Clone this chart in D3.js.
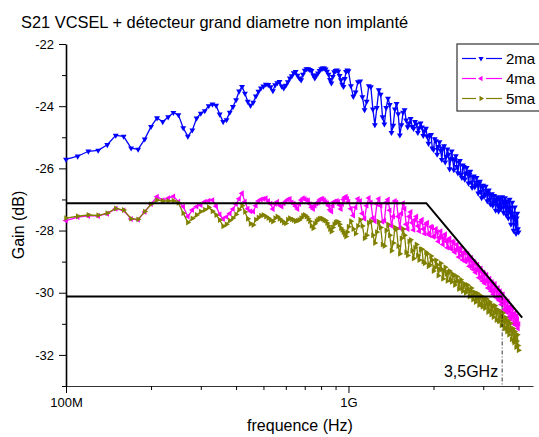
<!DOCTYPE html>
<html>
<head>
<meta charset="utf-8">
<script src="https://cdn.jsdelivr.net/npm/d3@7"></script>
<style>
	body { margin: 0; background: #fff; }
	svg { font-family: Arial, 'Liberation Sans', sans-serif; }
</style>
</head>
<body>
<div id="draw"></div>
<script>
// frequency sweep in MHz (10 MHz steps up to 1G, 20 MHz above)
const freqMHz = d3.range(100, 1001, 10).concat(d3.range(1020, 4001, 20));

// S21 gain (dB)
const gain2ma = [
	-25.71, -25.61, -25.45, -25.42, -25.24, -24.94, -24.97, -25.35, -25.39, -25.06,
	-24.66, -24.38, -24.50, -24.35, -24.21, -24.28, -24.70, -24.97, -24.77, -24.39,
	-24.23, -24.15, -23.99, -23.94, -23.98, -24.26, -24.50, -24.44, -24.20, -24.02,
	-23.80, -23.52, -23.37, -23.59, -23.85, -23.98, -23.88, -23.68, -23.53, -23.42,
	-23.36, -23.30, -23.31, -23.38, -23.51, -23.32, -23.25, -23.21, -23.36, -23.42,
	-23.33, -23.22, -23.10, -23.03, -22.93, -22.89, -23.01, -23.10, -23.16, -22.98,
	-22.85, -22.80, -22.80, -22.83, -22.86, -23.00, -23.10, -23.01, -22.94, -22.86,
	-22.80, -22.78, -22.78, -22.81, -22.88, -22.98, -23.15, -23.26, -23.05, -22.90,
	-22.86, -22.84, -22.88, -23.02, -23.16, -23.30, -23.37, -23.12, -22.89, -22.84,
	-22.87,
	-23.35, -23.69, -23.55, -23.22, -23.20, -23.70, -24.12, -23.85, -23.35, -23.38,
	-24.10, -24.60, -24.05, -23.48, -23.62, -24.35, -24.58, -24.05, -23.75, -23.95,
	-24.85, -24.62, -24.10, -23.92, -24.25, -24.93, -24.60, -24.20, -24.12, -24.45,
	-24.67, -24.55, -24.40, -24.66, -24.72, -24.50, -24.58, -24.85, -24.70, -24.55,
	-24.68, -24.95, -24.80, -24.72, -24.98, -25.20, -24.95, -24.92, -25.35, -25.40,
	-25.05, -25.12, -25.55, -25.30, -25.15, -25.42, -25.72, -25.35, -25.28, -25.80,
	-25.62, -25.38, -25.55, -26.02, -25.70, -25.45, -25.70, -26.05, -25.72, -25.60,
	-25.95, -26.15, -25.80, -25.75, -26.20, -26.30, -25.90, -25.95, -26.35, -26.18,
	-25.98, -26.15, -26.48, -26.20, -26.10, -26.45, -26.62, -26.28, -26.25, -26.60,
	-26.55, -26.30, -26.45, -26.80, -26.50, -26.42, -26.75, -26.95, -26.60, -26.55,
	-26.90, -26.85, -26.58, -26.72, -27.05, -26.80, -26.70, -27.00, -27.15, -26.85,
	-26.82, -27.20, -27.10, -26.88, -27.00, -27.35, -27.05, -26.92, -27.20, -27.38,
	-27.00, -26.95, -27.30, -27.25, -26.92, -27.05, -27.42, -27.10, -26.95, -27.25,
	-27.50, -27.05, -27.10, -27.60, -27.40, -27.00, -27.25, -27.80, -27.45, -27.10,
	-27.55, -28.00, -27.55, -27.25, -27.80, -28.10, -27.60, -27.45, -27.95, -28.05
];

const gain4ma = [
	-27.68, -27.57, -27.53, -27.53, -27.46, -27.30, -27.35, -27.63, -27.65, -27.40,
	-27.15, -26.91, -27.02, -26.96, -26.90, -27.07, -27.23, -27.55, -27.34, -27.23,
	-27.18, -27.07, -27.04, -27.02, -27.22, -27.48, -27.63, -27.56, -27.45, -27.31,
	-27.15, -26.98, -26.80, -27.07, -27.30, -27.38, -27.39, -27.20, -27.05, -27.00,
	-26.98, -26.96, -27.05, -27.14, -27.31, -27.15, -27.07, -27.18, -27.23, -27.12,
	-27.06, -27.00, -26.98, -27.10, -27.14, -27.22, -27.31, -27.15, -27.02, -26.96,
	-26.98, -27.02, -27.03, -27.15, -27.25, -27.31, -27.20, -27.13, -27.10, -27.02,
	-26.98, -26.98, -27.02, -27.08, -27.12, -27.20, -27.33, -27.39, -27.20, -27.07,
	-27.06, -27.05, -27.08, -27.18, -27.31, -27.15, -27.00, -26.93, -26.91, -26.98,
	-27.07,
	-27.30, -27.52, -27.25, -26.98, -27.05, -27.45, -27.62, -27.20, -26.95, -27.10,
	-27.60, -27.70, -27.15, -26.98, -27.20, -27.72, -27.68, -27.10, -27.00, -27.35,
	-27.85, -27.55, -27.05, -27.10, -27.55, -27.92, -27.45, -27.12, -27.30, -27.80,
	-27.95, -27.55, -27.40, -27.75, -27.98, -27.65, -27.55, -27.85, -28.02, -27.72,
	-27.65, -27.95, -28.10, -27.80, -27.75, -28.10, -28.15, -27.88, -27.90, -28.20,
	-28.18, -27.95, -28.05, -28.35, -28.22, -28.02, -28.20, -28.45, -28.25, -28.12,
	-28.35, -28.55, -28.30, -28.25, -28.55, -28.60, -28.35, -28.40, -28.70, -28.62,
	-28.45, -28.58, -28.85, -28.65, -28.55, -28.80, -28.95, -28.70, -28.70, -29.00,
	-28.95, -28.75, -28.90, -29.15, -28.95, -28.88, -29.15, -29.25, -29.00, -29.05,
	-29.35, -29.25, -29.10, -29.28, -29.52, -29.25, -29.22, -29.50, -29.62, -29.35,
	-29.38, -29.70, -29.62, -29.42, -29.58, -29.85, -29.60, -29.55, -29.85, -29.95,
	-29.65, -29.72, -30.05, -29.90, -29.72, -29.90, -30.15, -29.88, -29.85, -30.20,
	-30.25, -29.95, -30.05, -30.38, -30.20, -30.05, -30.30, -30.55, -30.22, -30.25,
	-30.62, -30.50, -30.28, -30.50, -30.78, -30.45, -30.45, -30.85, -30.75, -30.50,
	-30.70, -31.00, -30.70, -30.65, -31.00, -31.05, -30.75, -30.85, -31.15, -31.00
];

const gain5ma = [
	-27.60, -27.54, -27.50, -27.51, -27.44, -27.29, -27.34, -27.62, -27.64, -27.39,
	-27.15, -27.02, -27.05, -27.05, -27.04, -27.11, -27.44, -27.74, -27.61, -27.50,
	-27.39, -27.33, -27.25, -27.38, -27.50, -27.66, -27.86, -27.80, -27.68, -27.60,
	-27.48, -27.33, -27.20, -27.40, -27.62, -27.78, -27.82, -27.65, -27.58, -27.52,
	-27.50, -27.55, -27.60, -27.66, -27.71, -27.60, -27.55, -27.62, -27.68, -27.74,
	-27.77, -27.65, -27.60, -27.64, -27.66, -27.70, -27.68, -27.66, -27.60, -27.52,
	-27.50, -27.55, -27.62, -27.70, -27.85, -27.93, -27.78, -27.70, -27.65, -27.62,
	-27.61, -27.62, -27.66, -27.68, -27.76, -27.85, -27.95, -28.03, -27.90, -27.80,
	-27.74, -27.72, -27.72, -27.80, -27.92, -27.98, -28.05, -28.12, -28.19, -28.05,
	-27.88,
	-27.70, -27.95, -28.10, -27.85, -27.65, -27.85, -28.25, -28.15, -27.75, -27.70,
	-28.15, -28.40, -28.05, -27.72, -27.90, -28.45, -28.50, -28.00, -27.80, -28.15,
	-28.65, -28.40, -27.90, -27.95, -28.50, -28.75, -28.25, -27.95, -28.15, -28.70,
	-28.80, -28.35, -28.30, -28.65, -28.90, -28.55, -28.45, -28.80, -28.95, -28.60,
	-28.60, -29.00, -29.05, -28.70, -28.75, -29.15, -29.10, -28.82, -28.95, -29.30,
	-29.20, -28.95, -29.10, -29.45, -29.25, -29.05, -29.25, -29.55, -29.30, -29.18,
	-29.40, -29.62, -29.35, -29.30, -29.58, -29.65, -29.40, -29.45, -29.75, -29.65,
	-29.48, -29.62, -29.88, -29.65, -29.58, -29.85, -29.95, -29.70, -29.75, -30.00,
	-29.92, -29.75, -29.88, -30.12, -29.95, -29.85, -30.10, -30.22, -29.98, -30.00,
	-30.30, -30.20, -30.02, -30.18, -30.40, -30.15, -30.10, -30.38, -30.45, -30.18,
	-30.22, -30.50, -30.40, -30.20, -30.35, -30.62, -30.35, -30.30, -30.58, -30.70,
	-30.40, -30.45, -30.78, -30.65, -30.42, -30.60, -30.88, -30.55, -30.55, -30.90,
	-30.92, -30.60, -30.72, -31.05, -30.85, -30.65, -30.90, -31.15, -30.85, -30.80,
	-31.15, -31.25, -30.90, -31.00, -31.35, -31.20, -30.98, -31.20, -31.50, -31.20,
	-31.15, -31.55, -31.60, -31.25, -31.40, -31.75, -31.55, -31.35, -31.70, -31.85
];

const seriesNames = ['2ma', '4ma', '5ma'];
const seriesColors = ['#0000ff', '#ff00ff', '#808000'];
const markerRotate = [180, -90, 90]; // down, left, right triangles

// asymptote construction lines
const flatF = [100, 1886, 4120];
const flatG = [-27.12, -27.12, -30.8];
const minus3F = [100, 3500];
const minus3G = [-30.12, -30.12];
const cutoffMHz = 3500;
const cutoffLabel = '3,5GHz';

// axis ticks
const yMajor = [-32, -30, -28, -26, -24, -22];
const yMinor = [-33, -31, -29, -27, -25, -23];
const xMajor = [100, 1000];
const xMajorLabels = ['100M', '1G'];
const xMinor = [200, 300, 400, 500, 600, 700, 800, 900, 2000, 3000, 4000];

// set the dimensions of the graph
var width = 539,
	height = 437;
var plot = { left: 66, right: 533, top: 44, bottom: 386 };

var svg = d3
	.select('#draw')
	.append('svg')
	.attr('width', width)
	.attr('height', height);

var x = d3.scaleLog().domain([100, 4500]).range([plot.left, plot.right]);
var y = d3.scaleLinear().domain([-33, -22]).range([plot.bottom, plot.top]);

// title
svg
	.append('text')
	.attr('x', 21)
	.attr('y', 28)
	.style('font-size', '16.4px')
	.text('S21 VCSEL + détecteur grand diametre non implanté');

// Y axis (major + minor)
svg
	.append('g')
	.attr('transform', 'translate(' + plot.left + ',0)')
	.call(d3.axisLeft(y).tickValues(yMajor).tickSize(7).tickSizeOuter(0).tickPadding(5).tickFormat((d) => d))
	.call((g) => g.selectAll('text').style('font-size', '13px').style('font-family', 'Arial, Liberation Sans, sans-serif'))
	.call((g) => g.select('.domain').attr('stroke-width', 1.6));

svg
	.append('g')
	.attr('transform', 'translate(' + plot.left + ',0)')
	.call(d3.axisLeft(y).tickValues(yMinor).tickSize(4).tickSizeOuter(0).tickFormat(''))
	.call((g) => g.select('.domain').remove());

// X axis (major + minor)
svg
	.append('g')
	.attr('transform', 'translate(0,' + plot.bottom + ')')
	.call(
		d3
			.axisBottom(x)
			.tickValues(xMajor)
			.tickSize(7)
			.tickSizeOuter(0)
			.tickPadding(5)
			.tickFormat((d, i) => xMajorLabels[i])
	)
	.call((g) => g.selectAll('text').style('font-size', '13px').style('font-family', 'Arial, Liberation Sans, sans-serif'))
	.call((g) => g.select('.domain').attr('stroke', '#333'));

svg
	.append('g')
	.attr('transform', 'translate(0,' + plot.bottom + ')')
	.call(d3.axisBottom(x).tickValues(xMinor).tickSize(4).tickSizeOuter(0).tickFormat(''))
	.call((g) => g.select('.domain').remove());

// axis labels
svg
	.append('text')
	.attr('x', 300)
	.attr('y', 431)
	.attr('text-anchor', 'middle')
	.style('font-size', '16px')
	.text('frequence (Hz)');

svg
	.append('text')
	.attr('transform', 'translate(24,225) rotate(-90)')
	.attr('text-anchor', 'middle')
	.style('font-size', '16px')
	.text('Gain (dB)');

// curves
var allGains = [gain2ma, gain4ma, gain5ma];
var line = d3
	.line()
	.x((d) => x(d[0]))
	.y((d) => y(d[1]));

allGains.forEach(function (gains, s) {
	var pts = freqMHz.map((f, i) => [f, gains[i]]);
	svg
		.append('path')
		.datum(pts)
		.attr('fill', 'none')
		.attr('stroke', seriesColors[s])
		.attr('stroke-width', 1.3)
		.attr('d', line);

	svg
		.append('g')
		.selectAll('path')
		.data(pts)
		.enter()
		.append('path')
		.attr('d', d3.symbol(d3.symbolTriangle, 15))
		.attr('transform', (d) => 'translate(' + x(d[0]) + ',' + y(d[1]) + ') rotate(' + markerRotate[s] + ')')
		.attr('fill', seriesColors[s]);
});

// black construction lines
svg
	.append('path')
	.datum(flatF.map((f, i) => [f, flatG[i]]))
	.attr('fill', 'none')
	.attr('stroke', '#000')
	.attr('stroke-width', 2)
	.attr('d', line);

svg
	.append('path')
	.datum(minus3F.map((f, i) => [f, minus3G[i]]))
	.attr('fill', 'none')
	.attr('stroke', '#000')
	.attr('stroke-width', 2)
	.attr('d', line);

svg
	.append('line')
	.attr('x1', x(cutoffMHz))
	.attr('x2', x(cutoffMHz))
	.attr('y1', y(minus3G[0]))
	.attr('y2', plot.bottom)
	.attr('stroke', '#000')
	.attr('stroke-width', 0.8)
	.attr('stroke-dasharray', '4,2,1,2');

svg
	.append('text')
	.attr('x', x(cutoffMHz) - 4)
	.attr('y', 377)
	.attr('text-anchor', 'end')
	.style('font-size', '16px')
	.text(cutoffLabel);

// legend
var legend = svg.append('g');
legend
	.append('rect')
	.attr('x', 457)
	.attr('y', 44)
	.attr('width', 100)
	.attr('height', 67)
	.attr('fill', '#fff')
	.attr('stroke', '#333')
	.attr('stroke-width', 1.2);

seriesNames.forEach(function (name, s) {
	var ly = 58.5 + s * 20;
	legend.append('line').attr('x1', 462).attr('x2', 476).attr('y1', ly).attr('y2', ly)
		.attr('stroke', seriesColors[s]).attr('stroke-width', 1.2);
	legend.append('line').attr('x1', 486).attr('x2', 502).attr('y1', ly).attr('y2', ly)
		.attr('stroke', seriesColors[s]).attr('stroke-width', 1.2);
	legend
		.append('path')
		.attr('d', d3.symbol(d3.symbolTriangle, 12))
		.attr('transform', 'translate(481,' + ly + ') rotate(' + markerRotate[s] + ')')
		.attr('fill', seriesColors[s]);
	legend
		.append('text')
		.attr('x', 506)
		.attr('y', ly + 5)
		.style('font-size', '15px')
		.text(name);
});
</script>
</body>
</html>
